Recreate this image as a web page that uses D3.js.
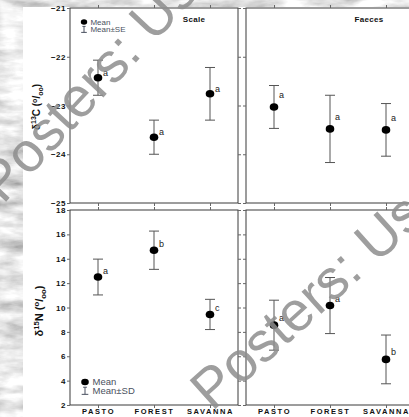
<!DOCTYPE html>
<html>
<head>
<meta charset="utf-8">
<script src="https://cdn.jsdelivr.net/npm/d3@7"></script>
<style>
  body { margin: 0; overflow: hidden; background: #fff; }
  text { font-family: "Liberation Sans", Arial, sans-serif; }
</style>
</head>
<body>
<script>
// data
var categories = ["PASTO", "FOREST", "SAVANNA"];

var c13ScaleMean = [-22.43, -23.65, -22.76];
var c13ScaleSE = [0.36, 0.35, 0.54];
var c13ScaleLetters = ["a", "a", "a"];

var c13FaecesMean = [-23.03, -23.48, -23.50];
var c13FaecesSE = [0.44, 0.69, 0.54];
var c13FaecesLetters = ["a", "a", "a"];

var n15ScaleMean = [12.5, 14.7, 9.43];
var n15ScaleSD = [1.47, 1.57, 1.24];
var n15ScaleLetters = ["a", "b", "c"];

var n15FaecesMean = [8.55, 10.16, 5.74];
var n15FaecesSD = [2.05, 2.3, 2.0];
var n15FaecesLetters = ["a", "a", "b"];

var c13Ticks = [-25, -24, -23, -22, -21];
var n15Ticks = [2, 4, 6, 8, 10, 12, 14, 16, 18];

var width = 409, height = 417;
var panelW = 168;

var svg = d3.select("body").append("svg")
  .attr("width", width)
  .attr("height", height);

// marble-ish backdrop
var defs = svg.append("defs");
var marble = defs.append("filter").attr("id", "marble")
  .attr("x", 0).attr("y", 0).attr("width", "100%").attr("height", "100%");
marble.append("feTurbulence")
  .attr("type", "fractalNoise")
  .attr("baseFrequency", "0.03 0.08")
  .attr("numOctaves", 4)
  .attr("seed", 3);
marble.append("feColorMatrix")
  .attr("type", "matrix")
  .attr("values", "0.7 0.7 0 0 0.1  0.7 0.7 0 0 0.1  0.7 0.7 0 0 0.1  0 0 0 0 1");

svg.append("rect")
  .attr("width", width).attr("height", height)
  .attr("filter", "url(#marble)");
svg.append("rect")
  .attr("x", 23).attr("y", 7)
  .attr("width", width - 23).attr("height", height - 7)
  .attr("fill", "#fff");

var yC = d3.scaleLinear().domain([-25, -21]).range([203, 8]);
var yN = d3.scaleLinear().domain([2, 18]).range([405, 210]);

function drawPanel(x0, y, ticks, means, errs, letters, letterDy, showY, showX) {
  var x = d3.scalePoint().domain(categories).range([x0, x0 + panelW]).padding(0.5);
  var r = y.range();
  var g = svg.append("g");

  g.append("rect")
    .attr("x", x0).attr("y", r[1])
    .attr("width", panelW).attr("height", r[0] - r[1])
    .attr("fill", "none")
    .attr("stroke", "#3a3a3a");

  var left = g.append("g").attr("transform", "translate(" + x0 + ",0)")
    .call(d3.axisLeft(y).tickValues(ticks).tickSize(3).tickPadding(1)
      .tickFormat(showY ? d3.format("d") : ""));
  var right = g.append("g").attr("transform", "translate(" + (x0 + panelW) + ",0)")
    .call(d3.axisRight(y).tickValues(ticks).tickSize(3).tickFormat(""));
  var top = g.append("g").attr("transform", "translate(0," + r[1] + ")")
    .call(d3.axisTop(x).tickSize(3).tickFormat(""));
  var bottom = g.append("g").attr("transform", "translate(0," + r[0] + ")")
    .call(d3.axisBottom(x).tickSize(3).tickPadding(0)
      .tickFormat(showX ? null : ""));

  [left, right, top, bottom].forEach(function(a) {
    a.select(".domain").remove();
    a.selectAll(".tick line").attr("stroke", "#666");
    a.selectAll("text")
      .attr("fill", "#111")
      .style("font-family", "'Liberation Sans', Arial, sans-serif")
      .style("font-weight", "bold")
      .style("font-size", "8px")
      .style("letter-spacing", "0.5px");
  });
  bottom.selectAll("text")
    .attr("y", 4)
    .style("font-size", "7.5px")
    .style("letter-spacing", "1.6px");

  var pts = g.selectAll(".pt").data(categories).enter().append("g");

  pts.append("line")
    .attr("x1", function(d) { return x(d); })
    .attr("x2", function(d) { return x(d); })
    .attr("y1", function(d, i) { return y(means[i] - errs[i]); })
    .attr("y2", function(d, i) { return y(means[i] + errs[i]); })
    .attr("stroke", "#555");
  [-1, 1].forEach(function(s) {
    pts.append("line")
      .attr("x1", function(d) { return x(d) - 5; })
      .attr("x2", function(d) { return x(d) + 5; })
      .attr("y1", function(d, i) { return y(means[i] + s * errs[i]); })
      .attr("y2", function(d, i) { return y(means[i] + s * errs[i]); })
      .attr("stroke", "#555");
  });
  pts.append("ellipse")
    .attr("cx", function(d) { return x(d); })
    .attr("cy", function(d, i) { return y(means[i]); })
    .attr("rx", 4.3).attr("ry", 3.8)
    .attr("fill", "#000");
  pts.append("text")
    .attr("x", function(d) { return x(d) + 5; })
    .attr("y", function(d, i) { return y(means[i]) + letterDy; })
    .attr("font-size", "9px")
    .attr("fill", "#222")
    .text(function(d, i) { return letters[i]; });

  return g;
}

var pC1 = drawPanel(70, yC, c13Ticks, c13ScaleMean, c13ScaleSE, c13ScaleLetters, -2, true, false);
var pC2 = drawPanel(246, yC, c13Ticks, c13FaecesMean, c13FaecesSE, c13FaecesLetters, -9, false, false);
var pN1 = drawPanel(70, yN, n15Ticks, n15ScaleMean, n15ScaleSD, n15ScaleLetters, -3, true, true);
var pN2 = drawPanel(246, yN, n15Ticks, n15FaecesMean, n15FaecesSD, n15FaecesLetters, -4, false, true);

// panel titles
svg.append("text").attr("x", 194).attr("y", 22).attr("text-anchor", "middle")
  .attr("font-size", "8px").attr("font-weight", "bold").attr("fill", "#111")
  .style("letter-spacing", "0.3px").text("Scale");
svg.append("text").attr("x", 369).attr("y", 22).attr("text-anchor", "middle")
  .attr("font-size", "8px").attr("font-weight", "bold").attr("fill", "#111")
  .style("letter-spacing", "0.3px").text("Faeces");

// y axis titles
function yTitle(cx, cy, size, iso, el) {
  var t = svg.append("text")
    .attr("transform", "translate(" + cx + "," + cy + ") rotate(-90)")
    .attr("text-anchor", "middle")
    .attr("font-size", size + "px")
    .attr("font-weight", "bold")
    .attr("fill", "#111");
  t.append("tspan").text("\u03b4");
  t.append("tspan").attr("dy", -size * 0.4).attr("font-size", size * 0.7 + "px").text(iso);
  t.append("tspan").attr("dy", size * 0.4).text(el + " (");
  t.append("tspan").attr("dy", -size * 0.35).attr("font-size", size * 0.7 + "px").text("o");
  t.append("tspan").attr("dy", size * 0.35).text("/");
  t.append("tspan").attr("dy", size * 0.25).attr("font-size", size * 0.7 + "px").text("oo");
  t.append("tspan").attr("dy", -size * 0.25).text(")");
}
yTitle(40, 107, 10, "13", "C");
yTitle(43, 311, 11, "15", "N");

// legends
function legend(x0, y0, size, label) {
  var lg = svg.append("g").attr("transform", "translate(" + x0 + "," + y0 + ")");
  var c = "#4a5160";
  lg.append("ellipse").attr("cx", 0).attr("cy", 0).attr("rx", size * 0.4).attr("ry", size * 0.34).attr("fill", "#000");
  lg.append("text").attr("x", size * 0.8).attr("y", size * 0.35)
    .attr("font-size", size + "px").attr("fill", c).text("Mean");
  var by = size * 0.9;
  lg.append("line").attr("x1", 0).attr("x2", 0).attr("y1", by - size * 0.35).attr("y2", by + size * 0.4).attr("stroke", c);
  lg.append("line").attr("x1", -size * 0.2).attr("x2", size * 0.2).attr("y1", by - size * 0.35).attr("y2", by - size * 0.35).attr("stroke", c);
  lg.append("line").attr("x1", -size * 0.35).attr("x2", size * 0.35).attr("y1", by + size * 0.4).attr("y2", by + size * 0.4).attr("stroke", c);
  lg.append("text").attr("x", size * 0.8).attr("y", by + size * 0.35)
    .attr("font-size", size + "px").attr("fill", c).text(label);
}
legend(84, 22, 8, "Mean\u00b1SE");
legend(85, 382, 9.5, "Mean\u00b1SD");

// watermark
function watermark(x0, y0, ang) {
  svg.append("text")
    .attr("transform", "translate(" + x0 + "," + y0 + ") rotate(" + ang + ")")
    .attr("font-size", "56px")
    .attr("fill", "#8e8e8e")
    .attr("opacity", 0.85)
    .text("Posters: Us");
}
watermark(3, 205, -47);
watermark(212, 412, -42);
</script>
</body>
</html>
